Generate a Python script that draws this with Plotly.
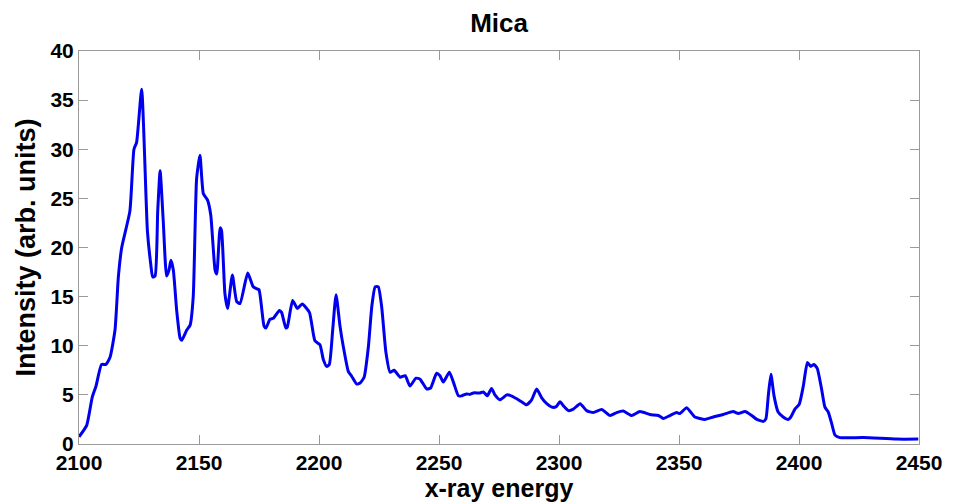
import plotly.graph_objects as go

energy = [2100.0, 2103.2, 2105.5, 2107.1, 2109.4, 2111.2, 2112.9, 2115.0, 2116.4, 2117.8,
          2121.2, 2122.9, 2124.0, 2126.1, 2128.5, 2129.9, 2130.7, 2131.7, 2132.8, 2133.8,
          2135.1, 2136.5, 2137.5, 2138.3, 2139.3, 2140.7, 2142.1, 2142.8, 2144.9, 2146.3,
          2147.6, 2149.0, 2150.4, 2151.8, 2153.6, 2154.9, 2156.7, 2157.4, 2158.8, 2159.4,
          2160.8, 2161.9, 2163.9, 2165.7, 2167.1, 2170.3, 2172.6, 2174.0, 2175.0, 2177.1,
          2177.9, 2179.6, 2181.0, 2183.5, 2184.4, 2186.2, 2186.8, 2189.0, 2191.0, 2193.0,
          2196.0, 2198.3, 2200.4, 2201.8, 2203.2, 2204.3, 2205.7, 2207.1, 2208.75, 2210.1,
          2212.2, 2213.6, 2215.7, 2217.1, 2218.8, 2220.6, 2222.0, 2223.4, 2224.7, 2226.1,
          2227.9, 2229.6, 2231.3, 2233.8, 2235.9, 2237.9, 2240.4, 2242.1, 2244.9, 2246.5,
          2249.0, 2250.4, 2251.8, 2254.3, 2256.0, 2258.1, 2259.4, 2261.5, 2262.9, 2264.3,
          2267.1, 2268.5, 2270.1, 2271.9, 2273.3, 2275.4, 2278.2, 2279.6, 2282.4, 2284.4,
          2286.5, 2288.6, 2290.7, 2292.8, 2294.9, 2297.0, 2298.8, 2300.4, 2301.8, 2303.9,
          2306.0, 2308.8, 2311.5, 2314.3, 2317.8, 2321.3, 2324.0, 2326.8, 2330.3, 2333.7,
          2337.9, 2341.4, 2343.5, 2346.2, 2349.0, 2350.4, 2353.2, 2356.6, 2360.8, 2364.3,
          2368.4, 2372.6, 2374.7, 2377.5, 2380.3, 2382.4, 2385.1, 2386.2, 2387.2, 2388.3,
          2389.6, 2391.3, 2393.4, 2395.5, 2396.6, 2398.3, 2400.1, 2401.8, 2403.5, 2404.9,
          2406.2, 2407.6, 2409.4, 2410.8, 2412.2, 2413.6, 2415.0, 2417.0, 2426.8, 2440.6,
          2449.7]

intensity = [0.73, 1.9, 4.75, 5.9, 8.1, 8.1, 8.8, 11.6, 17.0, 20.0,
             23.7, 30.0, 30.7, 36.1, 21.7, 18.3, 17.0, 17.1, 23.7, 27.8,
             22.7, 17.1, 17.7, 18.7, 17.7, 13.6, 10.8, 10.55, 11.6, 12.1,
             15.0, 27.0, 29.4, 25.5, 24.8, 23.3, 17.7, 17.3, 22.0, 21.7,
             15.3, 13.8, 17.2, 14.5, 14.3, 17.4, 16.0, 15.8, 15.7, 12.0,
             11.8, 12.7, 12.8, 13.6, 13.4, 11.8, 11.9, 14.6, 13.8, 14.25,
             13.4, 10.5, 10.1, 8.6, 7.9, 8.1, 11.6, 15.2, 12.0, 9.95,
             7.4, 6.9, 6.1, 6.2, 6.8, 9.95, 14.0, 16.0, 16.0, 14.0,
             9.3, 7.3, 7.5, 6.8, 6.95, 5.9, 6.7, 6.6, 5.6, 5.7,
             7.2, 6.95, 6.3, 7.3, 6.3, 4.9, 4.9, 5.1, 5.05, 5.2,
             5.2, 5.3, 4.9, 5.66, 5.0, 4.5, 5.0, 4.95, 4.6, 4.3,
             4.0, 4.5, 5.6, 4.7, 4.1, 3.75, 3.8, 4.3, 3.9, 3.4,
             3.55, 4.1, 3.4, 3.2, 3.5, 2.9, 3.2, 3.35, 2.9, 3.3,
             3.0, 2.9, 2.6, 2.9, 3.2, 3.1, 3.7, 2.75, 2.5, 2.75,
             3.0, 3.3, 3.1, 3.3, 2.9, 2.5, 2.3, 2.55, 4.9, 7.1,
             4.9, 3.25, 2.75, 2.5, 2.75, 3.55, 4.05, 5.9, 8.3, 7.9,
             8.1, 7.7, 5.6, 3.75, 3.25, 2.1, 0.9, 0.65, 0.65, 0.5,
             0.5]

x_ticks = [2100, 2150, 2200, 2250, 2300, 2350, 2400, 2450]
y_ticks = [0, 5, 10, 15, 20, 25, 30, 35, 40]

FONT = "Liberation Sans, Arial, sans-serif"

fig = go.Figure()
fig.add_trace(go.Scatter(
    x=energy, y=intensity, mode="lines",
    line=dict(color="#0000ee", width=3, shape="spline", smoothing=0.5),
    showlegend=False, hoverinfo="x+y",
))

axis_common = dict(
    showline=True, mirror="ticks", linecolor="#9a9a9a", linewidth=1,
    ticks="inside", ticklen=9, tickcolor="#9a9a9a", tickwidth=1,
    showgrid=False, zeroline=False,
    tickfont=dict(family=FONT, size=21, color="black", weight="bold"),
)

fig.update_layout(
    width=956, height=504,
    margin=dict(l=79, r=37, t=51, b=55),
    paper_bgcolor="white", plot_bgcolor="white",
    title=dict(text="<b>Mica</b>", x=0.522, xanchor="center", y=0.955, yanchor="middle",
               font=dict(family=FONT, size=26, color="black")),
    xaxis=dict(range=[2100, 2450], tickvals=x_ticks, ticktext=[str(v) for v in x_ticks],
               title=dict(text="<b>x-ray energy</b>", standoff=0,
                          font=dict(family=FONT, size=25, color="black")),
               **axis_common),
    yaxis=dict(range=[0, 40], tickvals=y_ticks, ticktext=[str(v) for v in y_ticks],
               title=dict(text="<b>Intensity (arb. units)</b>", standoff=6,
                          font=dict(family=FONT, size=27, color="black")),
               **axis_common),
)

fig.write_html("out.html")
